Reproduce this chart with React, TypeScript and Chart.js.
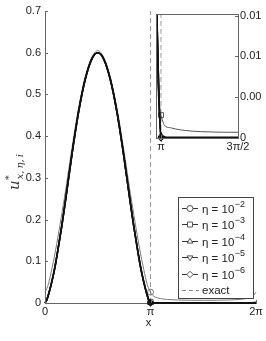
import React, { useEffect, useRef } from 'react';
import { Chart, registerables } from 'chart.js';
Chart.register(...registerables);

// x grid shared by every series (radians)
const X = [0, 0.05, 0.1, 0.2, 0.3, 0.4, 0.5, 0.6, 0.8, 1.0, 1.2, 1.4, 1.5708,
  1.7416, 1.9416, 2.1416, 2.3416, 2.5416, 2.6416, 2.7416, 2.8416, 2.9416, 3.0416, 3.0916, 3.1416,
  3.1916, 3.2416, 3.3416, 3.4416, 3.6416, 3.9416, 4.7124, 5.4832, 5.7832, 5.9832, 6.0832, 6.1832, 6.2332, 6.2832];

const ETA_1E2 = [0.026, 0.034, 0.045, 0.08, 0.12, 0.165, 0.213, 0.263, 0.37, 0.468, 0.543, 0.59, 0.605,
  0.59, 0.543, 0.468, 0.37, 0.263, 0.213, 0.165, 0.12, 0.08, 0.045, 0.034, 0.026,
  0.02, 0.016, 0.0125, 0.0105, 0.0085, 0.0072, 0.0065, 0.0072, 0.0085, 0.0105, 0.0125, 0.016, 0.02, 0.026];
const ETA_1E3 = [0.0028, 0.008, 0.019, 0.05, 0.088, 0.135, 0.185, 0.24, 0.355, 0.458, 0.537, 0.586, 0.6,
  0.586, 0.537, 0.458, 0.355, 0.24, 0.185, 0.135, 0.088, 0.05, 0.017, 0.0045, 0.0028,
  0.0018, 0.0014, 0.00125, 0.0011, 0.00092, 0.00078, 0.0007, 0.00078, 0.00092, 0.0011, 0.00125, 0.0014, 0.0018, 0.0028];
const ETA_1E4 = [0, 0.0067, 0.019, 0.05, 0.088, 0.135, 0.185, 0.24, 0.355, 0.458, 0.537, 0.586, 0.6,
  0.586, 0.537, 0.458, 0.355, 0.24, 0.185, 0.135, 0.088, 0.05, 0.019, 0.0067, 0.0003,
  0.0002, 0.0001, 0.0001, 0.0001, 0.0001, 0.0001, 0.0001, 0.0001, 0.0001, 0.0001, 0.0001, 0.0001, 0.0002, 0.0003];
const ETA_1E5 = [0, 0.0067, 0.019, 0.05, 0.088, 0.135, 0.185, 0.24, 0.355, 0.458, 0.537, 0.586, 0.6,
  0.586, 0.537, 0.458, 0.355, 0.24, 0.185, 0.135, 0.088, 0.05, 0.019, 0.0067, 0,
  0, 0, 0, 0, 0, 0, 0, 0, 0, 0, 0, 0, 0, 0];
const ETA_1E6 = [0, 0.0067, 0.019, 0.05, 0.088, 0.135, 0.185, 0.24, 0.355, 0.458, 0.537, 0.586, 0.6,
  0.586, 0.537, 0.458, 0.355, 0.24, 0.185, 0.135, 0.088, 0.05, 0.019, 0.0067, 0,
  0, 0, 0, 0, 0, 0, 0, 0, 0, 0, 0, 0, 0, 0];
const EXACT = [0, 0.0067, 0.019, 0.05, 0.088, 0.135, 0.185, 0.24, 0.355, 0.458, 0.537, 0.586, 0.6,
  0.586, 0.537, 0.458, 0.355, 0.24, 0.185, 0.135, 0.088, 0.05, 0.019, 0.0067, 0,
  0, 0, 0, 0, 0, 0, 0, 0, 0, 0, 0, 0, 0, 0];
const SPIKE_X = [3.1416, 3.1416];
const SPIKE_Y = [0, 0.7];

const MARKER_X = 3.1416;

const Y_TICKS = [0, 0.1, 0.2, 0.3, 0.4, 0.5, 0.6, 0.7];
const Y_TICK_LABELS = ['0', '0.1', '0.2', '0.3', '0.4', '0.5', '0.6', '0.7'];
const X_TICKS = [0, 3.1416, 6.2832];
const X_TICK_LABELS = ['0', 'π', '2π'];

const INSET_X_TICKS = [3.1416, 4.7124];
const INSET_X_LABELS = ['π', '3π/2'];
const INSET_Y_TICKS = [0, 0.005, 0.01, 0.015];
const INSET_Y_LABELS = ['0', '0.00', '0.01', '0.01'];

const LEGEND_EXPONENTS = ['−2', '−3', '−4', '−5', '−6'];

const FONT = '"Liberation Sans", Arial, Helvetica, sans-serif';
const SERIF = '"DejaVu Serif", "Liberation Serif", serif';

type Series = { data: number[]; color: string; width: number; style: string; rot: number; r: number; inInset: boolean };
const SERIES: Series[] = [
  { data: ETA_1E2, color: '#7a7a7a', width: 1, style: 'circle', rot: 0, r: 3, inInset: false },
  { data: ETA_1E3, color: '#555555', width: 1, style: 'rect', rot: 0, r: 3.5, inInset: true },
  { data: ETA_1E4, color: '#111111', width: 1.6, style: 'triangle', rot: 0, r: 3.2, inInset: true },
  { data: ETA_1E5, color: '#111111', width: 1.6, style: 'triangle', rot: 180, r: 3.2, inInset: true },
  { data: ETA_1E6, color: '#111111', width: 1.6, style: 'rectRot', rot: 0, r: 3.2, inInset: true },
];

const pts = (xs: number[], ys: number[]) => xs.map((x, i) => ({ x, y: ys[i] }));

function buildDatasets(inset: boolean) {
  const ds: any[] = [];
  ds.push({
    data: pts(X, EXACT), borderColor: '#9a9a9a', borderWidth: 1, borderDash: [5, 3],
    pointRadius: 0, order: 20, clip: inset ? undefined : false, cubicInterpolationMode: 'monotone',
  });
  ds.push({
    data: pts(SPIKE_X, SPIKE_Y), borderColor: '#9a9a9a', borderWidth: 1, borderDash: [5, 3],
    pointRadius: 0, order: 20, clip: inset ? undefined : false,
  });
  SERIES.forEach((s, i) => {
    if (inset && !s.inInset) return;
    ds.push({
      data: pts(X, s.data), borderColor: s.color, borderWidth: s.width,
      pointStyle: s.style, pointRotation: s.rot,
      pointRadius: (c: any) => (X[c.dataIndex] === MARKER_X ? s.r : 0),
      pointBorderColor: s.color, pointBackgroundColor: 'rgba(0,0,0,0)', pointBorderWidth: 1,
      order: 10 - i, cubicInterpolationMode: 'monotone',
      clip: inset ? { left: 0, top: 0, right: 0, bottom: 6 } : false,
    });
  });
  return ds;
}

function drawMarker(ctx: CanvasRenderingContext2D, style: string, rot: number, x: number, y: number, r: number) {
  ctx.save();
  ctx.translate(x, y);
  ctx.rotate((rot * Math.PI) / 180);
  ctx.beginPath();
  if (style === 'circle') {
    ctx.arc(0, 0, r, 0, Math.PI * 2);
  } else if (style === 'rect') {
    const h = r * Math.SQRT1_2;
    ctx.rect(-h, -h, 2 * h, 2 * h);
  } else if (style === 'triangle') {
    ctx.moveTo(0, -r);
    ctx.lineTo(r * 0.87, r * 0.5);
    ctx.lineTo(-r * 0.87, r * 0.5);
    ctx.closePath();
  } else if (style === 'rectRot') {
    ctx.moveTo(0, -r);
    ctx.lineTo(r, 0);
    ctx.lineTo(0, r);
    ctx.lineTo(-r, 0);
    ctx.closePath();
  }
  ctx.fillStyle = '#fff';
  ctx.fill();
  ctx.stroke();
  ctx.restore();
}

const mainDecor = {
  id: 'mainDecor',
  afterDraw(chart: any) {
    const ctx: CanvasRenderingContext2D = chart.ctx;
    const { left, bottom } = chart.chartArea;
    const xs = chart.scales.x;
    const ys = chart.scales.y;
    ctx.save();
    // inward ticks
    ctx.strokeStyle = '#666';
    ctx.lineWidth = 1;
    Y_TICKS.forEach((v) => {
      const y = Math.round(ys.getPixelForValue(v)) + 0.5;
      ctx.beginPath();
      ctx.moveTo(left, y);
      ctx.lineTo(left + 3, y);
      ctx.stroke();
    });
    X_TICKS.forEach((v) => {
      const x = Math.round(xs.getPixelForValue(v)) + 0.5;
      ctx.beginPath();
      ctx.moveTo(x, bottom);
      ctx.lineTo(x, bottom - 3);
      ctx.stroke();
    });
    // x title
    ctx.fillStyle = '#222';
    ctx.font = `11px ${FONT}`;
    ctx.textAlign = 'center';
    ctx.textBaseline = 'middle';
    ctx.fillText('x', xs.getPixelForValue(3.1416) - 2, 323);
    // y title
    ctx.save();
    ctx.translate(19, 190);
    ctx.rotate(-Math.PI / 2);
    ctx.textAlign = 'left';
    ctx.textBaseline = 'alphabetic';
    ctx.fillStyle = '#333';
    ctx.font = `italic 15px ${SERIF}`;
    ctx.fillText('u', 0, 0);
    const w = ctx.measureText('u').width;
    ctx.font = `10px ${SERIF}`;
    ctx.fillText('*', w, -7);
    ctx.font = `italic 10px ${SERIF}`;
    ctx.fillText('x,\u2009η,\u2009i', w + 1, 4);
    ctx.restore();

    // legend
    const bx = 178, by = 197, bw = 75, bh = 101;
    ctx.fillStyle = '#fff';
    ctx.fillRect(bx, by, bw, bh);
    ctx.strokeStyle = '#444';
    ctx.lineWidth = 1;
    ctx.strokeRect(bx + 0.5, by + 0.5, bw, bh);
    ctx.textAlign = 'left';
    ctx.textBaseline = 'middle';
    SERIES.forEach((s, i) => {
      const y = Math.round(208 + i * 16.4) + 0.5;
      ctx.strokeStyle = '#333';
      ctx.lineWidth = 1;
      ctx.beginPath();
      ctx.moveTo(182, y);
      ctx.lineTo(198, y);
      ctx.stroke();
      ctx.strokeStyle = '#555';
      drawMarker(ctx, s.style, s.rot, 190, y, s.r);
      ctx.fillStyle = '#222';
      ctx.font = `11.5px ${FONT}`;
      const base = 'η = 10';
      ctx.fillText(base, 202, y + 1);
      const bw2 = ctx.measureText(base).width;
      ctx.font = `9px ${FONT}`;
      ctx.fillText(LEGEND_EXPONENTS[i], 202 + bw2 + 0.5, y - 4);
    });
    const ey = Math.round(208 + 5 * 16.4) + 0.5;
    ctx.strokeStyle = '#888';
    ctx.setLineDash([4, 3]);
    ctx.beginPath();
    ctx.moveTo(182, ey);
    ctx.lineTo(199, ey);
    ctx.stroke();
    ctx.setLineDash([]);
    ctx.fillStyle = '#222';
    ctx.font = `11.5px ${FONT}`;
    ctx.fillText('exact', 202, ey);
    ctx.restore();
  },
};

const insetDecor = {
  id: 'insetDecor',
  beforeDatasetsDraw(chart: any) {
    const ctx: CanvasRenderingContext2D = chart.ctx;
    const { left, top, right, bottom } = chart.chartArea;
    ctx.save();
    ctx.fillStyle = '#fff';
    ctx.fillRect(left, top, right - left, bottom - top);
    ctx.restore();
  },
  afterDraw(chart: any) {
    const ctx: CanvasRenderingContext2D = chart.ctx;
    const { left, top, right, bottom } = chart.chartArea;
    const xs = chart.scales.x;
    const ys = chart.scales.y;
    ctx.save();
    ctx.strokeStyle = '#666';
    ctx.lineWidth = 1;
    ctx.strokeRect(Math.round(left) + 0.5, Math.round(top) + 0.5, Math.round(right - left), Math.round(bottom - top));
    INSET_Y_TICKS.forEach((v) => {
      const y = Math.round(ys.getPixelForValue(v)) + 0.5;
      ctx.beginPath();
      ctx.moveTo(right, y);
      ctx.lineTo(right - 3, y);
      ctx.stroke();
    });
    INSET_X_TICKS.forEach((v) => {
      const x = Math.round(xs.getPixelForValue(v)) + 0.5;
      ctx.beginPath();
      ctx.moveTo(x, bottom);
      ctx.lineTo(x, bottom - 3);
      ctx.stroke();
    });
    ctx.restore();
  },
};

export default function App() {
  const mainRef = useRef<HTMLCanvasElement>(null);
  const insetRef = useRef<HTMLCanvasElement>(null);

  useEffect(() => {
    const main = new Chart(mainRef.current!, {
      type: 'line',
      data: { datasets: buildDatasets(false) },
      options: {
        responsive: false,
        animation: false,
        events: [],
        layout: { padding: { left: 0, top: 11, right: 10, bottom: 0 } },
        plugins: { legend: { display: false }, tooltip: { enabled: false } },
        scales: {
          x: {
            type: 'linear', min: 0, max: 6.2832,
            afterBuildTicks: (s: any) => { s.ticks = X_TICKS.map((v) => ({ value: v })); },
            afterFit: (s: any) => { s.height = 38; },
            ticks: {
              autoSkip: false, maxRotation: 0, padding: 2, color: '#222',
              font: { family: FONT, size: 11 },
              callback: (_v: any, i: number) => X_TICK_LABELS[i],
            },
            grid: { display: false, drawTicks: false },
            border: { display: true, color: '#666', width: 1 },
          },
          y: {
            type: 'linear', min: 0, max: 0.7,
            afterBuildTicks: (s: any) => { s.ticks = Y_TICKS.map((v) => ({ value: v })); },
            afterFit: (s: any) => { s.width = 45; },
            ticks: {
              autoSkip: false, padding: 4, color: '#222',
              font: { family: FONT, size: 11 },
              callback: (_v: any, i: number) => Y_TICK_LABELS[i],
            },
            grid: { display: false, drawTicks: false },
            border: { display: true, color: '#666', width: 1 },
          },
        },
      },
      plugins: [mainDecor],
    } as any);

    const inset = new Chart(insetRef.current!, {
      type: 'line',
      data: { datasets: buildDatasets(true) },
      options: {
        responsive: false,
        animation: false,
        events: [],
        layout: { padding: { left: 156, top: 14, right: 0, bottom: 0 } },
        plugins: { legend: { display: false }, tooltip: { enabled: false } },
        scales: {
          x: {
            type: 'linear', min: 3.04, max: 4.7124,
            afterBuildTicks: (s: any) => { s.ticks = INSET_X_TICKS.map((v) => ({ value: v })); },
            afterFit: (s: any) => { s.height = 203; },
            ticks: {
              autoSkip: false, maxRotation: 0, padding: 2, color: '#222',
              font: { family: FONT, size: 11 },
              callback: (_v: any, i: number) => INSET_X_LABELS[i],
            },
            grid: { display: false, drawTicks: false },
            border: { display: false },
          },
          y: {
            type: 'linear', position: 'right', min: 0, max: 0.0152,
            afterBuildTicks: (s: any) => { s.ticks = INSET_Y_TICKS.map((v) => ({ value: v })); },
            afterFit: (s: any) => { s.width = 28; },
            ticks: {
              autoSkip: false, padding: 2, color: '#222',
              font: { family: FONT, size: 11 },
              callback: (_v: any, i: number) => INSET_Y_LABELS[i],
            },
            grid: { display: false, drawTicks: false },
            border: { display: false },
          },
        },
      },
      plugins: [insetDecor],
    } as any);

    return () => {
      main.destroy();
      inset.destroy();
    };
  }, []);

  return (
    <div style={{ position: 'absolute', left: 0, top: 0, width: 266, height: 341, background: '#fff' }}>
      <canvas ref={mainRef} width={266} height={341} style={{ position: 'absolute', left: 0, top: 0, width: 266, height: 341 }} />
      <canvas ref={insetRef} width={266} height={341} style={{ position: 'absolute', left: 0, top: 0, width: 266, height: 341 }} />
    </div>
  );
}
